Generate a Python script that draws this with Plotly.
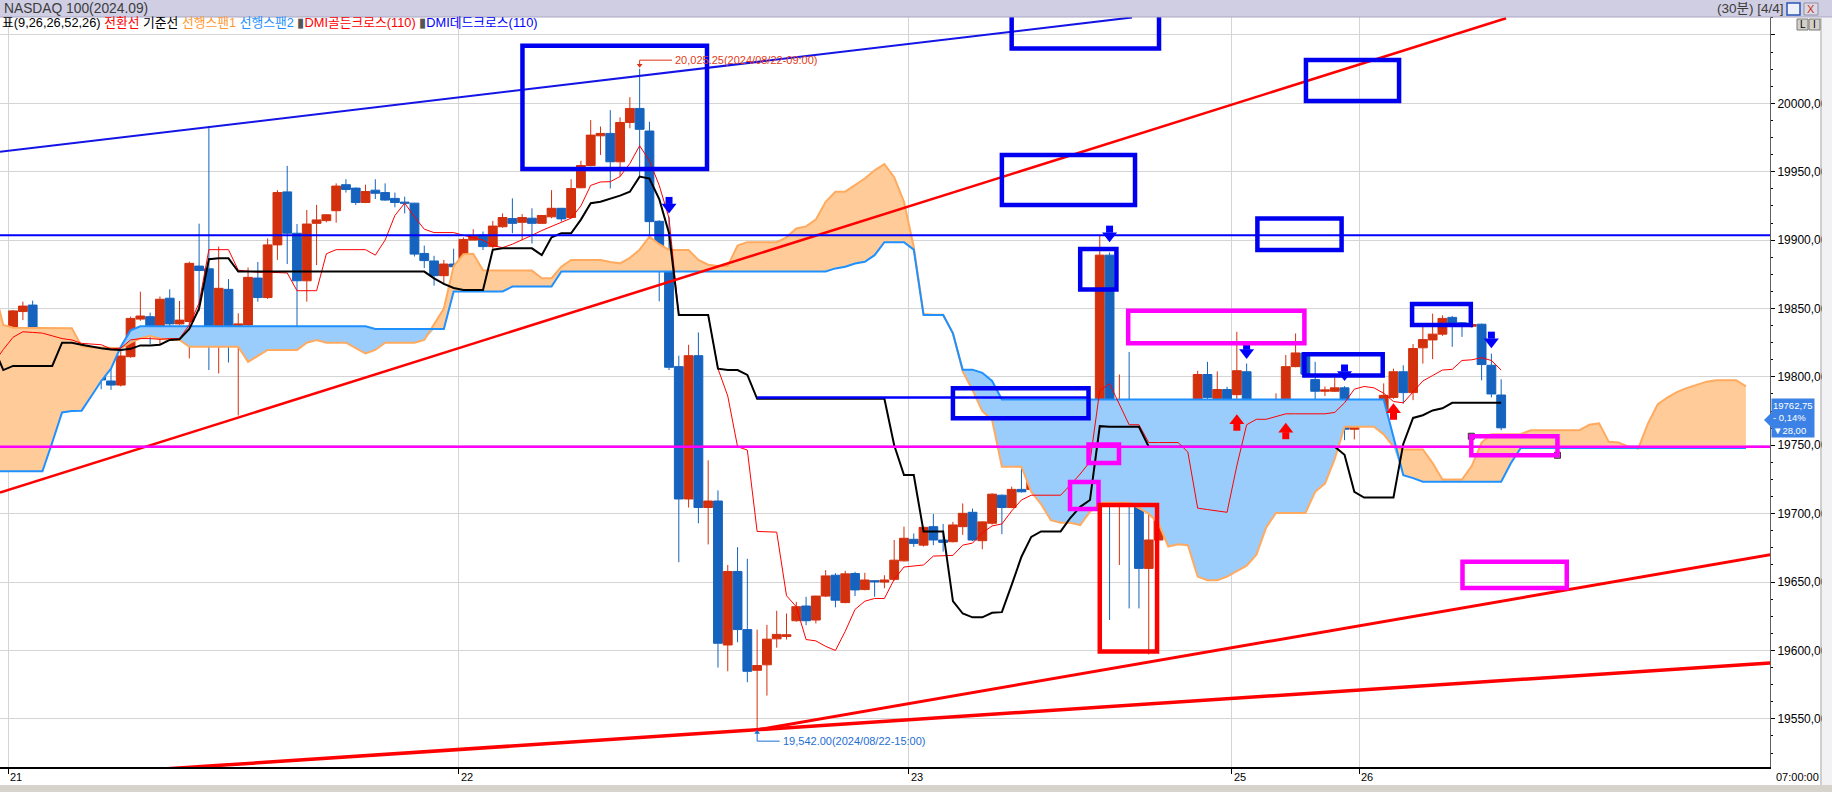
import plotly.graph_objects as go
import numpy as np

# ---------------- data ----------------
DAY_LABELS = ["21", "22", "23", "25", "26"]
DAY_BOUNDARIES = [0.5, 46.5, 92.5, 125.5, 138.5]
Y_TICKS = [19550, 19600, 19650, 19700, 19750, 19800, 19850, 19900, 19950, 20000, 20050]

OPEN = [
    19831.5, 19833.5, 19847.75, 19852.5, 19831.25, 19824, 19811, 19827, 19816.75, 19798.5,
    19802, 19797, 19794, 19814.75, 19842.25, 19844, 19830.5, 19857.5, 19838.75, 19840.5,
    19881, 19879, 19827, 19864, 19822.75, 19838, 19872.25, 19858, 19896.5, 19935.25,
    19905, 19870.25, 19912.25, 19914.25, 19921.5, 19940.5, 19938, 19927.5, 19936.5, 19934.75,
    19930.5, 19927.75, 19927, 19890.25, 19884.75, 19874, 19882.5, 19881.75, 19900, 19903.75,
    19895.25, 19909.75, 19915.75, 19913, 19916, 19912.25, 19917, 19923.25, 19916.5, 19938.25,
    19954.5, 19976.25, 19978, 19957.25, 19986, 19996.25, 19979.75, 19913.75, 19877, 19807.5,
    19710.75, 19815.5, 19704.5, 19709.25, 19604, 19657.75, 19615.25, 19585.5, 19589.5, 19608.5,
    19610.25, 19621.75, 19632.5, 19622.25, 19639.75, 19655, 19635, 19656.25, 19644.5, 19651,
    19650, 19652, 19665.5, 19681.25, 19677, 19690.5, 19680.75, 19679.5, 19690.5, 19701,
    19680.25, 19693, 19713.5, 19704.5, 19717.75, 19717.75, 19739.25, 19729.5, 19738, 19727,
    19756.75, 19758.75, 19755, 19889, 19713.5, 19770.75, 19721.5, 19660, 19680.75, 19725.75,
    19733, 19750.5, 19738, 19801.75, 19784.25, 19790.75, 19787, 19803.75, 19734.25, 19738,
    19766, 19773.75, 19807.5, 19817.5, 19798, 19789.5, 19789.5, 19792, 19761.75, 19772,
    19776, 19775.75, 19785, 19803.75, 19788.5, 19821.25, 19827, 19831.25, 19843.5, 19839.5,
    19837, 19838.5, 19808.5, 19786.75]
HIGH = [
    19836, 19849, 19855, 19855.75, 19834.75, 19824.5, 19828.25, 19831.75, 19824, 19802.5,
    19811, 19806.25, 19819.75, 19844, 19862.25, 19847, 19858.75, 19864, 19855.5, 19884.25,
    19912, 19983.5, 19895.25, 19871.5, 19846.5, 19880, 19884, 19901.25, 19936.5, 19954.25,
    19911.75, 19922, 19925.75, 19919, 19941.5, 19944.5, 19938.5, 19940.5, 19944.5, 19941.5,
    19934.75, 19931.75, 19927.25, 19896, 19888.5, 19885.5, 19893.75, 19902, 19908, 19906.25,
    19914, 19919.5, 19930.5, 19919, 19923.25, 19918, 19936.5, 19923.5, 19944.5, 19958,
    19987.75, 19983, 19995, 19989.75, 20004.5, 20025.25, 19986.5, 19914.5, 19917, 19815.5,
    19823.5, 19832.5, 19739, 19717, 19662.5, 19675.5, 19667, 19615.25, 19618.75, 19629,
    19627, 19635.5, 19639.25, 19640, 19658.75, 19656.5, 19658.25, 19657.5, 19656.75, 19651.25,
    19655, 19680.75, 19690.5, 19685.5, 19690.5, 19699.75, 19692.5, 19694, 19707.5, 19703.75,
    19694.5, 19715, 19714, 19719.75, 19734.25, 19755, 19745.25, 19740.5, 19747.75, 19758,
    19778.25, 19764, 19904, 19891, 19801.75, 19818.25, 19724.5, 19701.5, 19731.75, 19768.5,
    19759.75, 19766, 19804.5, 19811, 19804, 19792.75, 19833, 19809.75, 19747.75, 19767,
    19788, 19816, 19831.75, 19818, 19811, 19793, 19799.5, 19793.25, 19772.5, 19777.5,
    19780, 19795.25, 19806, 19808.5, 19824, 19836.5, 19846.25, 19845, 19844.5, 19840,
    19839, 19839, 19817, 19798.25]
LOW = [
    19829, 19833, 19841.5, 19828.25, 19822, 19808, 19799.5, 19815.25, 19794, 19797.75,
    19791, 19790.5, 19793, 19814, 19841, 19824, 19823.25, 19837.25, 19838, 19813.5,
    19848, 19805, 19802.5, 19810.5, 19771.75, 19837.5, 19855, 19857, 19885.5, 19882.5,
    19833, 19855, 19881.75, 19913, 19912.75, 19934.75, 19925.75, 19927, 19930, 19928.75,
    19924, 19919.5, 19888, 19879.5, 19866.75, 19867.25, 19866.5, 19881, 19900, 19892.75,
    19894, 19909, 19905, 19900, 19897.5, 19912, 19916, 19913.5, 19915.75, 19938,
    19954, 19962.25, 19937.75, 19946.5, 19981.75, 19946.5, 19883, 19855.25, 19805, 19664.5,
    19704.5, 19693, 19677.5, 19587.5, 19584.75, 19606, 19576.75, 19542, 19567, 19602,
    19608, 19621, 19618.5, 19619.75, 19639, 19631.5, 19634.5, 19639.75, 19644, 19639.25,
    19645.5, 19651, 19665, 19675.75, 19676, 19677, 19672.25, 19679, 19684.5, 19680,
    19674, 19692, 19685, 19704, 19715.5, 19717, 19721, 19724.5, 19719.75, 19724.5,
    19742.75, 19706.25, 19754, 19622.25, 19662.5, 19630.75, 19630.75, 19597, 19680, 19721.5,
    19722, 19722.5, 19737.5, 19728.25, 19772, 19773.75, 19777, 19731.25, 19716, 19731.25,
    19751.25, 19770.75, 19807, 19800, 19781.75, 19786, 19789, 19753.75, 19754.25, 19771.5,
    19763.5, 19775, 19784, 19780.5, 19783, 19809.75, 19813, 19830, 19822, 19829.25,
    19836, 19797.5, 19785, 19761]
CLOSE = [
    19834.25, 19848.25, 19851.75, 19831.75, 19824, 19812.5, 19827.5, 19817.75, 19799.5, 19801.5,
    19797.75, 19794, 19815.25, 19842.75, 19844.5, 19831.25, 19856.75, 19838.75, 19841.5, 19883,
    19877.75, 19826.5, 19864.75, 19822.75, 19838.75, 19872.75, 19858, 19896.5, 19934.75, 19905,
    19870.25, 19911.75, 19914.75, 19918.5, 19939.5, 19937, 19927.5, 19935.5, 19934.25, 19929.25,
    19927.5, 19927, 19889.75, 19885, 19874, 19882.5, 19880.5, 19900.5, 19903, 19895.25,
    19910.25, 19916.5, 19912.25, 19916.5, 19912.25, 19918, 19923.25, 19915.5, 19937.75, 19954.5,
    19976.75, 19978, 19957.25, 19986, 19996.25, 19981, 19913.5, 19877, 19807, 19710.75,
    19815.5, 19704.5, 19709.25, 19605.25, 19657.75, 19615.25, 19584.75, 19589, 19608.25, 19611.75,
    19611.5, 19632, 19621.75, 19639.75, 19654.5, 19636.75, 19656, 19644.25, 19651.5, 19650.25,
    19651.5, 19666, 19682, 19678.25, 19690, 19680.75, 19679, 19691.75, 19700.25, 19680.75,
    19694, 19714.25, 19704.5, 19717.75, 19716, 19739.25, 19729.5, 19738, 19727, 19757.5,
    19758.25, 19761.5, 19889, 19714.75, 19770, 19722, 19660, 19680.75, 19727, 19732.25,
    19751.25, 19737.25, 19801.75, 19785, 19790.75, 19776.25, 19804.5, 19734.25, 19739, 19766.5,
    19774.5, 19807.5, 19817.5, 19802, 19789.5, 19790.5, 19792, 19761.75, 19772, 19777.5,
    19774.75, 19786.5, 19803.75, 19788.5, 19820.75, 19827.25, 19831.25, 19842.75, 19839, 19838,
    19838.25, 19809, 19787.5, 19762.75]

# Ichimoku lines (index -1 .. 153)
CONV = [
    19810, 19820, 19829, 19833, 19832.5, 19832, 19830, 19828, 19827, 19824.5,
    19824, 19823.5, 19820.5, 19821, 19827, 19828, 19828, 19827.5, 19828, 19828,
    19838, 19854, 19893, 19893, 19893, 19878, 19877, 19876.5, 19876.5, 19876.5,
    19876, 19863, 19863, 19863, 19890, 19893, 19893, 19893, 19893, 19889,
    19900, 19918, 19927, 19917, 19908, 19905.5, 19905.5, 19905.5, 19903.5, 19902,
    19900, 19896, 19894.5, 19897, 19900, 19903.5, 19907, 19910, 19913.5, 19916,
    19925, 19940, 19942.5, 19942.7, 19946.5, 19956, 19969, 19958, 19940, 19916,
    19845, 19845, 19845, 19845, 19806, 19786, 19749, 19746.5, 19687, 19687,
    19686.5, 19640, 19632, 19608, 19607, 19603, 19600, 19614, 19630, 19636,
    19638, 19638, 19652, 19661, 19662, 19662.5, 19669, 19669.5, 19669.5, 19677,
    19678.5, 19686, 19691, 19692.5, 19702, 19710, 19713.5, 19713.5, 19713.5, 19713.5,
    19721, 19729, 19738, 19790, 19795, 19780, 19765, 19765, 19752, 19752,
    19752, 19752, 19745, 19704, 19703, 19702, 19701, 19735, 19765, 19769,
    19769, 19771, 19773, 19773, 19773, 19773, 19773, 19774, 19781, 19791,
    19793, 19792, 19788, 19782, 19781, 19789, 19797, 19801, 19805, 19805.5,
    19812, 19812.5, 19814, 19812, 19805]
BASE = [
    19822, 19805, 19808, 19808, 19808, 19808, 19808, 19825, 19825, 19823.5,
    19822, 19821, 19820, 19819.7, 19820.5, 19823, 19823, 19823.5, 19827, 19827.5,
    19835, 19850, 19886, 19886.7, 19886.7, 19877, 19877, 19877, 19877, 19877,
    19877, 19877, 19877, 19877, 19877, 19877, 19877, 19877, 19877, 19877,
    19877, 19877, 19877, 19877, 19877, 19872, 19868, 19865, 19863.5, 19863.5,
    19863.5, 19893, 19894, 19894, 19894, 19894, 19889, 19902, 19905, 19905,
    19915, 19927, 19928, 19930, 19932.5, 19935.4, 19946.4, 19945, 19930, 19905,
    19845.3, 19845.3, 19845.3, 19845.3, 19806, 19805, 19805, 19801.4, 19784, 19784,
    19784, 19784, 19784, 19784, 19784, 19784, 19784, 19784, 19784, 19784,
    19784, 19784, 19750, 19728.2, 19728.2, 19687, 19687, 19687, 19636, 19627,
    19624.2, 19624.2, 19627.5, 19628, 19648, 19668.5, 19683, 19687, 19687, 19687,
    19697, 19705, 19710, 19764, 19763.5, 19763.5, 19763.5, 19763.5, 19749, 19749,
    19749, 19749, 19749, 19749, 19749, 19749, 19749, 19749, 19749, 19749,
    19749, 19749, 19749, 19749, 19749, 19749, 19749, 19749, 19743, 19716,
    19711.8, 19711.8, 19711.8, 19711.8, 19751, 19770, 19772, 19775.5, 19777, 19781,
    19781, 19781, 19781, 19781, 19781]
# leading spans (index -1 .. 178, already shifted forward)
SPAN1 = [
    19866, 19838, 19836, 19836, 19836, 19836, 19836, 19836, 19835.5, 19822.5,
    19821.5, 19821.5, 19821.5, 19821, 19825, 19828.2, 19829.9, 19828, 19827, 19827,
    19822, 19822, 19822, 19822, 19822, 19822, 19811, 19815.5, 19819.7, 19819.7,
    19819.7, 19819.7, 19825, 19827, 19825, 19825, 19825, 19821, 19817.2, 19819.7,
    19825, 19825, 19825, 19825, 19827, 19838.5, 19850, 19881, 19889.6, 19890,
    19878, 19877.7, 19877.7, 19877.7, 19877.7, 19877.7, 19872.1, 19872.1, 19880.6, 19885.5,
    19885.5, 19885.5, 19885.5, 19884, 19883, 19887, 19893, 19902.5, 19897, 19892.8,
    19892.8, 19892.8, 19885.5, 19882, 19881.1, 19881.1, 19896, 19898.5, 19898.5, 19898.5,
    19898.5, 19902, 19908.5, 19910, 19915, 19928, 19935.4, 19935.4, 19940, 19945,
    19951, 19955.5, 19946, 19928, 19895, 19846, 19845.5, 19845.5, 19832, 19804,
    19790.4, 19775, 19768.4, 19734.3, 19734.3, 19734.3, 19716, 19707, 19695.3, 19693.4,
    19693.4, 19691.7, 19701.4, 19708, 19708, 19708, 19708, 19704, 19700, 19692.9,
    19676, 19677.7, 19677, 19654, 19651.4, 19651.4, 19654, 19658, 19662, 19670,
    19690, 19700.5, 19700.5, 19700.5, 19700.5, 19716, 19722, 19740, 19763.5, 19763.5,
    19763.5, 19763.5, 19758, 19749, 19747, 19747, 19747, 19737, 19725, 19725,
    19725, 19735, 19752, 19758.1, 19758.1, 19758.1, 19758.1, 19761, 19761, 19761,
    19761, 19761, 19761, 19765, 19766, 19752.5, 19752, 19749, 19747.6, 19766,
    19780, 19785, 19789, 19792, 19794.5, 19796.5, 19797.5, 19797.6, 19797.6, 19793]
SPAN2 = [
    19731, 19731, 19731, 19731, 19731, 19731, 19752, 19774, 19775, 19775.3,
    19786, 19797, 19806, 19822, 19834, 19837, 19837, 19837, 19837, 19837,
    19837, 19837, 19837, 19837, 19837, 19837, 19837, 19837, 19837, 19837,
    19837, 19837, 19837, 19837, 19837, 19837, 19837, 19837, 19837, 19835,
    19835, 19835, 19835, 19835, 19835, 19835, 19835, 19862.5, 19862.5, 19862.5,
    19862.5, 19862.5, 19862.5, 19866, 19866, 19866, 19866, 19866, 19877, 19877,
    19877, 19877, 19877, 19877, 19877, 19877, 19877, 19877, 19877, 19877,
    19877, 19877, 19877, 19877, 19877, 19877, 19877, 19877, 19877, 19877,
    19877, 19877, 19877, 19877, 19877, 19877, 19879.3, 19880.5, 19882.9, 19884.2,
    19889, 19898.5, 19898.5, 19898.5, 19893, 19845.2, 19845.2, 19845.2, 19831.8, 19805.3,
    19805.3, 19803, 19797, 19783.5, 19783.5, 19783.5, 19783.5, 19783.5, 19783.5, 19783.5,
    19783.5, 19783.5, 19783.5, 19783.5, 19783.5, 19783.5, 19783.5, 19783.5, 19783.5, 19783.5,
    19783.5, 19783.5, 19783.5, 19783.5, 19783.5, 19783.5, 19783.5, 19783.5, 19783.5, 19783.5,
    19783.5, 19783.5, 19783.5, 19783.5, 19783.5, 19783.5, 19783.5, 19783.5, 19783.5, 19783.5,
    19783.5, 19783.5, 19783.5, 19756, 19728.2, 19726, 19723.4, 19723.4, 19723.4, 19723.4,
    19723.4, 19723.4, 19723.4, 19723.4, 19723.4, 19737, 19748, 19748, 19748, 19748,
    19748, 19748, 19748, 19748, 19748, 19748, 19748, 19748, 19748, 19748,
    19748, 19748, 19748, 19748, 19748, 19748, 19748, 19748, 19748, 19748]

# DMI cross markers (bar index, arrow-tip price)
DEAD_X = [68, 113, 127, 137, 152]
DEAD_Y = [19919.5, 19898.5, 19813, 19797, 19821]
GOLD_X = [126, 131, 142]
GOLD_Y = [19772.7, 19766.5, 19780.7]

# user drawings
H_LINES = [(19903.5, "rgb(0,0,255)", 2), (19749, "rgb(255,0,255)", 2.5)]
SEG_BLUE = ([77, 110.7], [19785, 19785])
TREND_BLUE = ([-0.34, 115.3], [19964.5, 20062.8])
TREND_RED_UP = ([-0.34, 153.5], [19715.4, 20062.2])
TREND_RED_L1 = ([0, 180.5], [19505.6, 19590.9])
TREND_RED_L2 = ([77, 180.5], [19542.0, 19670.0])
BLUE, MAG, RED = "rgb(0,0,240)", "rgb(255,0,255)", "rgb(255,0,0)"
BOXES = [
    (53.03, 71.88, 20042, 19952, BLUE),
    (103.0, 118.05, 20090, 20040, BLUE),
    (102.0, 115.6, 19962.2, 19925.7, BLUE),
    (133.06, 142.57, 20031.6, 20001.7, BLUE),
    (128.1, 136.7, 19915.8, 19892.8, BLUE),
    (110.0, 113.7, 19893.5, 19863.9, BLUE),
    (97.0, 110.85, 19791.7, 19769.7, BLUE),
    (132.9, 140.9, 19816.5, 19801, BLUE),
    (143.9, 149.9, 19853.3, 19837.9, BLUE),
    (114.9, 132.9, 19848.3, 19824.6, MAG),
    (110.85, 113.96, 19750.6, 19737, MAG),
    (108.96, 111.87, 19723.2, 19703.4, MAG),
    (149.95, 158.75, 19756.6, 19742.7, MAG),
    (149.05, 159.7, 19664.9, 19645.7, MAG),
    (112.0, 117.85, 19706.4, 19599.3, RED),
]
HANDLES_X = [149.95, 158.75]
HANDLES_Y = [19756.6, 19742.7]
HIGH_MARK = (65, 20025.25, "20,025.25(2024/08/22-09:00)")
LOW_MARK = (77, 19542.0, "19,542.00(2024/08/22-15:00)")
LAST_TEXT = "19762,75<br>- 0,14%<br>▼28,00"

# ---------------- layout geometry ----------------
W, H = 1832, 792
PL, PR, PT, PB = 0, 1770, 17, 767
X_RANGE = [-0.337, 180.46]
Y_RANGE = [19514.8, 20063.1]
PT_PER_PX = (Y_RANGE[1] - Y_RANGE[0]) / (PB - PT)


def pxx(xp):
    return (xp - PL) / (PR - PL)


def pyy(yp):
    return (PB - yp) / (PB - PT)


idx = np.arange(len(OPEN))
ind_x = np.arange(-1, len(CONV) - 1)
span_x = np.arange(-1, len(SPAN1) - 1)
s1 = np.array(SPAN1)
s2 = np.array(SPAN2)
lo = np.minimum(s1, s2)

fig = go.Figure()
nolegend = dict(showlegend=False, hoverinfo="skip")
# cloud fills
fig.add_trace(go.Scatter(x=span_x, y=lo, mode="lines", line=dict(width=0), **nolegend))
fig.add_trace(go.Scatter(x=span_x, y=s1, mode="lines", line=dict(width=0), fill="tonexty",
                         fillcolor="rgb(255,204,153)", **nolegend))
fig.add_trace(go.Scatter(x=span_x, y=lo, mode="lines", line=dict(width=0), **nolegend))
fig.add_trace(go.Scatter(x=span_x, y=s2, mode="lines", line=dict(width=0), fill="tonexty",
                         fillcolor="rgb(155,205,252)", **nolegend))
# span lines
fig.add_trace(go.Scatter(x=span_x, y=s1, mode="lines", line=dict(color="rgb(255,170,95)", width=2), **nolegend))
fig.add_trace(go.Scatter(x=span_x, y=s2, mode="lines", line=dict(color="rgb(30,144,255)", width=2), **nolegend))
# conversion / base
fig.add_trace(go.Scatter(x=ind_x, y=CONV, mode="lines", line=dict(color="rgb(255,0,0)", width=1), **nolegend))
fig.add_trace(go.Scatter(x=ind_x, y=BASE, mode="lines", line=dict(color="black", width=2), **nolegend))

RED_C, BLUE_C = "#D3300E", "#1563BE"
fig.add_trace(go.Candlestick(
    x=idx, open=OPEN, high=HIGH, low=LOW, close=CLOSE,
    increasing=dict(line=dict(color=RED_C, width=1), fillcolor=RED_C),
    decreasing=dict(line=dict(color=BLUE_C, width=1), fillcolor=BLUE_C),
    whiskerwidth=0, showlegend=False, hoverinfo="skip"))

# drawn lines
for xs, ys, col, wd in [
    (SEG_BLUE[0], SEG_BLUE[1], "rgb(0,0,255)", 2.5),
    (TREND_BLUE[0], TREND_BLUE[1], "rgb(20,20,230)", 2),
    (TREND_RED_UP[0], TREND_RED_UP[1], "rgb(255,0,0)", 2.5),
    (TREND_RED_L1[0], TREND_RED_L1[1], "rgb(255,0,0)", 3.5),
    (TREND_RED_L2[0], TREND_RED_L2[1], "rgb(255,0,0)", 3),
]:
    fig.add_trace(go.Scatter(x=xs, y=ys, mode="lines", line=dict(color=col, width=wd), **nolegend))

# price-extreme connectors
hx, hy, htxt = HIGH_MARK
lx, ly, ltxt = LOW_MARK
fig.add_trace(go.Scatter(x=[hx, hx, hx + 3.3], y=[hy + 2.2, hy + 6.3, hy + 6.3], mode="lines",
                         line=dict(color="rgb(220,50,20)", width=1), **nolegend))
fig.add_trace(go.Scatter(x=[hx], y=[hy + 2.5], mode="markers",
                         marker=dict(symbol="triangle-down", size=5, color="rgb(220,50,20)"), **nolegend))
fig.add_trace(go.Scatter(x=[lx, lx, lx + 2.3], y=[ly - 1.5, ly - 8.3, ly - 8.3], mode="lines",
                         line=dict(color="rgb(30,110,210)", width=1), **nolegend))
fig.add_trace(go.Scatter(x=[lx], y=[ly - 2], mode="markers",
                         marker=dict(symbol="triangle-up", size=5, color="rgb(30,110,210)"), **nolegend))
# selection handles
fig.add_trace(go.Scatter(x=HANDLES_X, y=HANDLES_Y, mode="markers",
                         marker=dict(symbol="square", size=6, color="#8a8a8a", line=dict(color="#333", width=1)),
                         **nolegend))

# DMI cross block arrows: head (triangle) + shaft (square)
HEAD_OFF = 6.5 * PT_PER_PX
SHAFT_OFF = 13.0 * PT_PER_PX
dx_, dy_ = np.array(DEAD_X), np.array(DEAD_Y)
gx_, gy_ = np.array(GOLD_X), np.array(GOLD_Y)
fig.add_trace(go.Scatter(x=dx_, y=dy_ + SHAFT_OFF, mode="markers",
                         marker=dict(symbol="square", size=7, color="rgb(0,0,255)", line=dict(width=0)), **nolegend))
fig.add_trace(go.Scatter(x=dx_, y=dy_ + HEAD_OFF, mode="markers",
                         marker=dict(symbol="triangle-down", size=13, color="rgb(0,0,255)", line=dict(width=0)),
                         **nolegend))
fig.add_trace(go.Scatter(x=gx_, y=gy_ - SHAFT_OFF, mode="markers",
                         marker=dict(symbol="square", size=7, color="rgb(255,0,0)", line=dict(width=0)), **nolegend))
fig.add_trace(go.Scatter(x=gx_, y=gy_ - HEAD_OFF, mode="markers",
                         marker=dict(symbol="triangle-up", size=13, color="rgb(255,0,0)", line=dict(width=0)),
                         **nolegend))

shapes = []
for y, col, wd in H_LINES:
    shapes.append(dict(type="line", xref="paper", x0=0, x1=1, yref="y", y0=y, y1=y,
                       line=dict(color=col, width=wd), layer="above"))
for x0, x1, y0, y1, col in BOXES:
    shapes.append(dict(type="rect", xref="x", yref="y", x0=x0, x1=x1, y0=y0, y1=y1,
                       line=dict(color=col, width=4.5), fillcolor="rgba(0,0,0,0)", layer="above"))

# chrome: header bar, toolbar, bottom strip
shapes += [
    dict(type="rect", xref="paper", yref="paper", x0=pxx(0), x1=pxx(W), y0=pyy(17), y1=pyy(0),
         fillcolor="#D0CEE3", line=dict(width=0), layer="above"),
    dict(type="line", xref="paper", yref="paper", x0=pxx(0), x1=pxx(W), y0=pyy(17), y1=pyy(17),
         line=dict(color="#A9A7C0", width=1)),
    dict(type="rect", xref="paper", yref="paper", x0=pxx(1787), x1=pxx(1800), y0=pyy(15), y1=pyy(3),
         fillcolor="#EEF0FA", line=dict(color="#2A55B5", width=1.5)),
    dict(type="rect", xref="paper", yref="paper", x0=pxx(1804), x1=pxx(1818), y0=pyy(15), y1=pyy(3),
         fillcolor="#DCD8E4", line=dict(color="#9090A8", width=1)),
    dict(type="rect", xref="paper", yref="paper", x0=pxx(1822), x1=pxx(W), y0=pyy(785), y1=pyy(18),
         fillcolor="#F2F2F4", line=dict(width=0)),
    dict(type="line", xref="paper", yref="paper", x0=pxx(1821), x1=pxx(1821), y0=pyy(785), y1=pyy(18),
         line=dict(color="#A0A0A0", width=1)),
    dict(type="rect", xref="paper", yref="paper", x0=pxx(0), x1=pxx(W), y0=pyy(792), y1=pyy(785),
         fillcolor="#D6D3CC", line=dict(width=0)),
    dict(type="rect", xref="paper", yref="paper", x0=pxx(1797), x1=pxx(1808), y0=pyy(30), y1=pyy(19),
         fillcolor="#D4D0C8", line=dict(color="#7a7a7a", width=1)),
    dict(type="rect", xref="paper", yref="paper", x0=pxx(1809), x1=pxx(1820), y0=pyy(30), y1=pyy(19),
         fillcolor="#D4D0C8", line=dict(color="#7a7a7a", width=1)),
    dict(type="path", xref="paper", yref="paper",
         path=f"M {pxx(1764)} {pyy(420)} L {pxx(1772)} {pyy(412)} L {pxx(1772)} {pyy(428)} Z",
         fillcolor="rgb(60,130,230)", line=dict(width=0)),
]

FONT = "Liberation Sans, Arial, Noto Sans CJK KR, sans-serif"
ann = []
legend_html = ('<span style="color:#000">표(9,26,26,52,26) </span>'
               '<span style="color:#FF0000">전환선</span> '
               '<span style="color:#000">기준선</span> '
               '<span style="color:#FF9933">선행스팬1</span> '
               '<span style="color:#1E90FF">선행스팬2</span> '
               '<span style="color:#555">▮</span><span style="color:#FF0000">DMI골든크로스(110)</span> '
               '<span style="color:#555">▮</span><span style="color:#0000FF">DMI데드크로스(110)</span>')
ann.append(dict(xref="paper", yref="paper", x=pxx(0), y=pyy(22), xanchor="left", yanchor="middle",
                text=legend_html, showarrow=False, font=dict(size=12.8, family=FONT)))
ann.append(dict(xref="paper", yref="paper", x=pxx(2), y=pyy(8.5), xanchor="left", yanchor="middle",
                text="NASDAQ 100(2024.09)", showarrow=False, font=dict(size=13.8, color="#3c3c3c", family=FONT)))
ann.append(dict(xref="paper", yref="paper", x=pxx(1785), y=pyy(8.5), xanchor="right", yanchor="middle",
                text="(30분) [4/4]", showarrow=False, font=dict(size=13.5, color="#3c3c3c", family=FONT)))
ann.append(dict(xref="paper", yref="paper", x=pxx(1811), y=pyy(9), xanchor="center", yanchor="middle",
                text="X", showarrow=False, font=dict(size=11, color="#C03020", family=FONT)))
ann.append(dict(xref="paper", yref="paper", x=pxx(1802.5), y=pyy(24.5), xanchor="center", yanchor="middle",
                text="L", showarrow=False, font=dict(size=10, color="#000", family=FONT)))
ann.append(dict(xref="paper", yref="paper", x=pxx(1814.5), y=pyy(24.5), xanchor="center", yanchor="middle",
                text="I", showarrow=False, font=dict(size=10, color="#000", family=FONT)))
# x-axis day labels
for xv, lab in zip(DAY_BOUNDARIES, DAY_LABELS):
    ann.append(dict(xref="x", yref="paper", x=xv, y=pyy(777), xanchor="left", yanchor="middle",
                    text=lab, showarrow=False, font=dict(size=11, color="#000", family=FONT)))
ann.append(dict(xref="paper", yref="paper", x=pxx(1797), y=pyy(777), xanchor="center", yanchor="middle",
                text="07:00:00", showarrow=False, font=dict(size=11, color="#000", family=FONT)))
# extreme price labels
ann.append(dict(xref="x", yref="y", x=hx + 3.4, y=hy + 6.3, xanchor="left", yanchor="middle",
                text=htxt, showarrow=False, font=dict(size=11, color="rgb(225,60,25)", family=FONT)))
ann.append(dict(xref="x", yref="y", x=lx + 2.4, y=ly - 8.3, xanchor="left", yanchor="middle",
                text=ltxt, showarrow=False, font=dict(size=11, color="rgb(30,110,210)", family=FONT)))
# last price box (nudged up slightly so it clears the 19750 label)
ann.append(dict(xref="paper", yref="y", x=pxx(1771), y=CLOSE[-1] + 7.5, xanchor="left", yanchor="middle",
                text=LAST_TEXT, showarrow=False, align="left", bgcolor="rgb(60,130,230)", borderpad=1,
                font=dict(size=9.5, color="white", family=FONT)))

fig.update_layout(
    width=W, height=H,
    margin=dict(l=PL, r=W - PR, t=PT, b=H - PB, pad=0),
    paper_bgcolor="white", plot_bgcolor="white",
    showlegend=False, hovermode=False,
    boxgap=0.02, boxgroupgap=0.08,
    shapes=shapes, annotations=ann,
    font=dict(family=FONT, size=11, color="black"),
    xaxis=dict(range=X_RANGE, tickmode="array", tickvals=DAY_BOUNDARIES, ticktext=[""] * len(DAY_BOUNDARIES),
               showgrid=True, gridcolor="#D4D4D4", gridwidth=1, zeroline=False,
               showline=True, linecolor="black", linewidth=1.5, ticks="outside", ticklen=5,
               tickcolor="black", rangeslider=dict(visible=False), fixedrange=True),
    yaxis=dict(range=Y_RANGE, side="right", tickmode="array", tickvals=Y_TICKS,
               ticktext=[f"{v},00" if v != 20050 else "" for v in Y_TICKS],
               showgrid=True, gridcolor="#D4D4D4", gridwidth=1, zeroline=False,
               showline=True, linecolor="#606060", linewidth=1, ticks="outside", ticklen=4,
               tickcolor="black", tickfont=dict(size=12, color="black", family=FONT),
               minor=dict(tick0=19500, dtick=12.5, ticks="outside", ticklen=2, tickcolor="black",
                          showgrid=False),
               fixedrange=True),
)

fig.write_html("out.html", config={"displayModeBar": False, "staticPlot": True},
               post_script="document.body.style.margin='0';document.body.style.overflow='hidden';")
